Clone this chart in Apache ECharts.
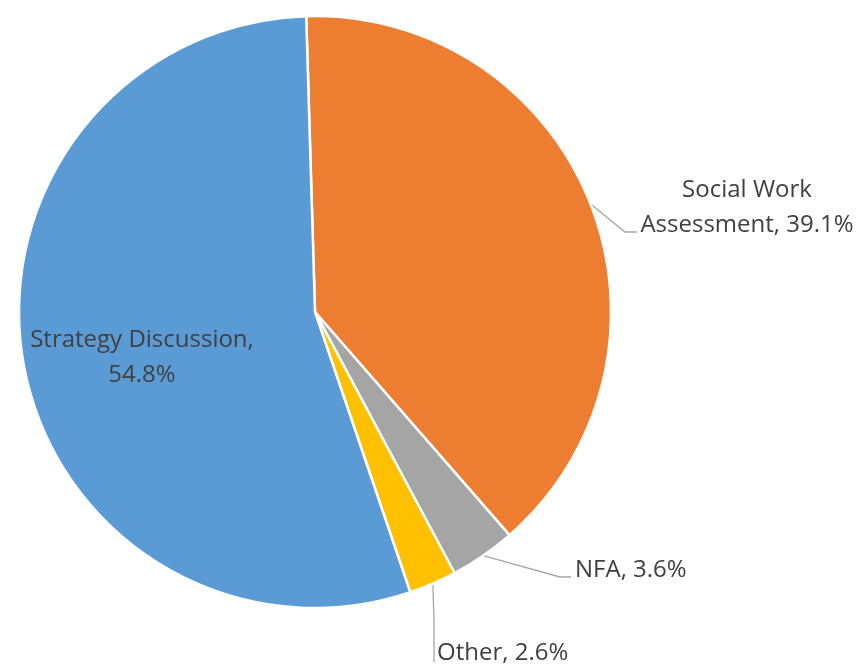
<!DOCTYPE html>
<html lang="en" style="height: 100%">
<head>
    <meta charset="utf-8">
    <title>Pie</title>
    <script src="https://cdn.jsdelivr.net/npm/echarts@6.0.0/dist/echarts.min.js"></script>
    <style>
        html, body { margin: 0; padding: 0; background: #fff; }
    </style>
</head>
<body>
<div id="chart" style="width:865px; height:670px;"></div>

<script type="text/javascript">
    // data
    var categories = ['Social Work Assessment', 'NFA', 'Other', 'Strategy Discussion'];
    var values = [39.1, 3.6, 2.6, 54.8];
    var colors = ['#ed7d31', '#a5a5a5', '#ffc000', '#5b9bd5'];
    // label text as shown (line breaks)
    var labelText = ['Social Work\nAssessment, 39.1%', 'NFA, 3.6%', 'Other, 2.6%', 'Strategy Discussion,\n54.8%'];

    // label anchors (layout only)
    var labelPos = [
        { x: 747, y: 208, align: 'center', elbow: [625, 232], end: [637, 232] },
        { x: 575, y: 570, align: 'left', elbow: [560, 577], end: [571, 577] },
        { x: 437, y: 653, align: 'left', elbow: [434, 620], end: [434, 662] },
        { x: 142, y: 358, align: 'center' }
    ];

    var myChart = echarts.init(document.getElementById('chart'));

    myChart.setOption({
        animation: false,
        series: [{
            type: 'pie',
            center: [315, 312],
            radius: 296,
            startAngle: 91.7,
            clockwise: true,
            itemStyle: {
                borderColor: '#fff',
                borderWidth: 2.5
            },
            label: {
                show: true,
                position: 'outside',
                color: '#404040',
                fontFamily: 'Open Sans',
                fontSize: 24,
                lineHeight: 35,
                align: 'center',
                formatter: function (p) {
                    return labelText[p.dataIndex];
                }
            },
            labelLine: {
                show: true,
                lineStyle: { color: '#a6a6a6', width: 1.3 }
            },
            labelLayout: function (params) {
                var lp = labelPos[params.dataIndex];
                var out = {
                    x: lp.x,
                    y: lp.y,
                    align: lp.align,
                    verticalAlign: 'middle'
                };
                if (lp.elbow && params.labelLinePoints) {
                    out.labelLinePoints = [params.labelLinePoints[0], lp.elbow, lp.end];
                }
                return out;
            },
            data: categories.map(function (name, i) {
                var item = {
                    name: name,
                    value: values[i],
                    itemStyle: { color: colors[i] }
                };
                if (i === 3) {
                    item.label = { position: 'inside' };
                    item.labelLine = { show: false };
                }
                return item;
            })
        }]
    });
</script>

</body>
</html>
